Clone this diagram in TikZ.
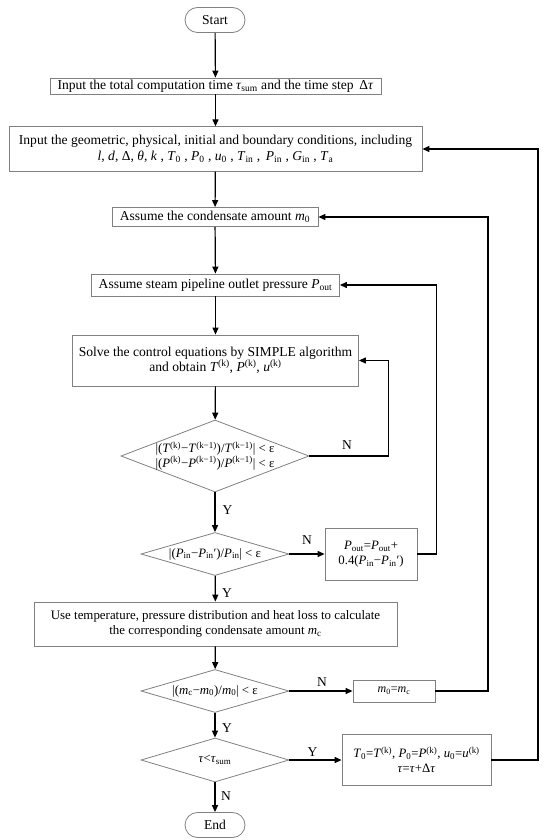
\documentclass[tikz,border=0pt]{standalone}
\usepackage{fontspec}
\setmainfont{Liberation Serif}
\usetikzlibrary{shapes.geometric,arrows.meta}
\newcommand{\ssb}[1]{\textsubscript{#1}}
\newcommand{\ssp}[1]{\textsuperscript{#1}}
\begin{document}
\begin{tikzpicture}[x=1pt,y=-1pt,
  box/.style={draw=gray,line width=0.8pt,inner sep=1pt,align=center,font=\fontsize{13.6}{15.5}\selectfont},
  term/.style={box,rounded corners=12.5pt,minimum width=60pt,minimum height=25pt},
  dia/.style={draw=gray,line width=0.8pt,diamond,inner sep=0pt},
  dtext/.style={font=\fontsize{12.8}{14.5}\selectfont,align=center},
  flow/.style={line width=1.2pt,-{Triangle[length=7pt,width=6pt]}},
  link/.style={line width=1.2pt},
  tag/.style={font=\fontsize{13.5}{14}\selectfont}]

\useasboundingbox (0,0) rectangle (550,840);

\node[term] (a1) at (215,20) {Start};
\node[box,minimum width=331pt,minimum height=16pt] (a2) at (215.5,86)
  {Input the total computation time \textit{τ}\ssb{sum} and the time step\, Δ\textit{τ}};
\node[box,minimum width=413pt,minimum height=44.5pt] (a3) at (215.5,149)
  {Input the geometric, physical, initial and boundary conditions, including\\
   \textit{l}, \textit{d}, Δ, \textit{θ}, \textit{k} , \textit{T}\ssb{0} , \textit{P}\ssb{0} , \textit{u}\ssb{0} , \textit{T}\ssb{in} ,\, \textit{P}\ssb{in} , \textit{G}\ssb{in} , \textit{T}\ssb{a}};
\node[box,minimum width=206pt,minimum height=19pt] (a4) at (215,217)
  {Assume the condensate amount \textit{m}\ssb{0}};
\node[box,minimum width=248pt,minimum height=22pt] (a5) at (215.5,285)
  {Assume steam pipeline outlet pressure \textit{P}\ssb{out}};
\node[box,minimum width=286pt,minimum height=51pt] (a6) at (215.5,360.5)
  {Solve the control equations by SIMPLE algorithm\\
   and obtain \textit{T}\ssp{(k)}, \textit{P}\ssp{(k)}, \textit{u}\ssp{(k)}};
\node[dia,minimum width=188pt,minimum height=72pt,
  label={[dtext]center:{|(\textit{T}\ssp{(k)}−\textit{T}\ssp{(k−1)})/\textit{T}\ssp{(k−1)}| < ε\\
   |(\textit{P}\ssp{(k)}−\textit{P}\ssp{(k−1)})/\textit{P}\ssp{(k−1)}| < ε}}] (a7) at (215,456) {};
\node[dia,minimum width=148pt,minimum height=43pt,
  label={[dtext]center:{|(\textit{P}\ssb{in}−\textit{P}\ssb{in}′)/\textit{P}\ssb{in}| < ε}}] (a8) at (215,554) {};
\node[box,minimum width=92pt,minimum height=52pt,font=\fontsize{12.8}{15}\selectfont] (a9) at (371,554)
  {\textit{P}\ssb{out}=\textit{P}\ssb{out}+\\ 0.4(\textit{P}\ssb{in}−\textit{P}\ssb{in}′)};
\node[box,minimum width=363pt,minimum height=44pt,font=\fontsize{12.9}{15.5}\selectfont] (a10) at (215.5,624)
  {Use temperature, pressure distribution and heat loss to calculate\\
   the corresponding condensate amount \textit{m}\ssb{c}};
\node[dia,minimum width=148pt,minimum height=43pt,
  label={[dtext]center:{|(\textit{m}\ssb{c}−\textit{m}\ssb{0})/\textit{m}\ssb{0}| < ε}}] (a11) at (215,691) {};
\node[box,minimum width=82pt,minimum height=22pt,font=\fontsize{12}{14}\selectfont] (a12) at (394,691)
  {\textit{m}\ssb{0}=\textit{m}\ssb{c}};
\node[dia,minimum width=148pt,minimum height=44pt,
  label={[dtext]center:{\textit{τ}<\textit{τ}\ssb{sum}}}] (a13) at (215,760) {};
\node[box,minimum width=149pt,minimum height=51pt,font=\fontsize{12.8}{15}\selectfont] (a14) at (416.5,760)
  {\textit{T}\ssb{0}=\textit{T}\ssp{(k)}, \textit{P}\ssb{0}=\textit{P}\ssp{(k)}, \textit{u}\ssb{0}=\textit{u}\ssp{(k)}\\
   \textit{τ}=\textit{τ}+Δ\textit{τ}};
\node[term] (a15) at (215,825) {End};

% corners of the loops
\coordinate (c1) at (388.5,456);
\coordinate (c2) at (436.5,554);
\coordinate (c3) at (488,691);
\coordinate (c4) at (538,760);

\draw[flow] (a1) -- (a2);
\draw[flow] (a2) -- (a3);
\draw[flow] (a3) -- (a4);
\draw[flow] (a4) -- (a5);
\draw[flow] (a5) -- (a6);
\draw[flow] (a6) -- (a7);
\draw[flow] (a7) -- (a8);
\draw[flow] (a8) -- (a10);
\draw[flow] (a10) -- (a11);
\draw[flow] (a11) -- (a13);
\draw[flow] (a13) -- (a15);

\draw[flow] (a7.east) -- (c1) |- (a6.east);
\draw[flow] (a8.east) -- (a9.west);
\draw[flow] (a9.east) -- (c2) |- (a5.east);
\draw[flow] (a11.east) -- (a12.west);
\draw[flow] (a12.east) -- (c3) |- (a4.east);
\draw[flow] (a13.east) -- (a14.west);
\draw[flow] (a14.east) -- (c4) |- (a3.east);

\node[tag] (n1) at (347,445) {N};
\node[tag] (n2) at (307,540) {N};
\node[tag] (n3) at (322,682) {N};
\node[tag] (n4) at (312.5,752) {Y};
\node[tag] (n5) at (226,796) {N};
\node[tag] (y1) at (227.5,510) {Y};
\node[tag] (y2) at (227,593) {Y};
\node[tag] (y3) at (227,728) {Y};

\end{tikzpicture}
\end{document}
